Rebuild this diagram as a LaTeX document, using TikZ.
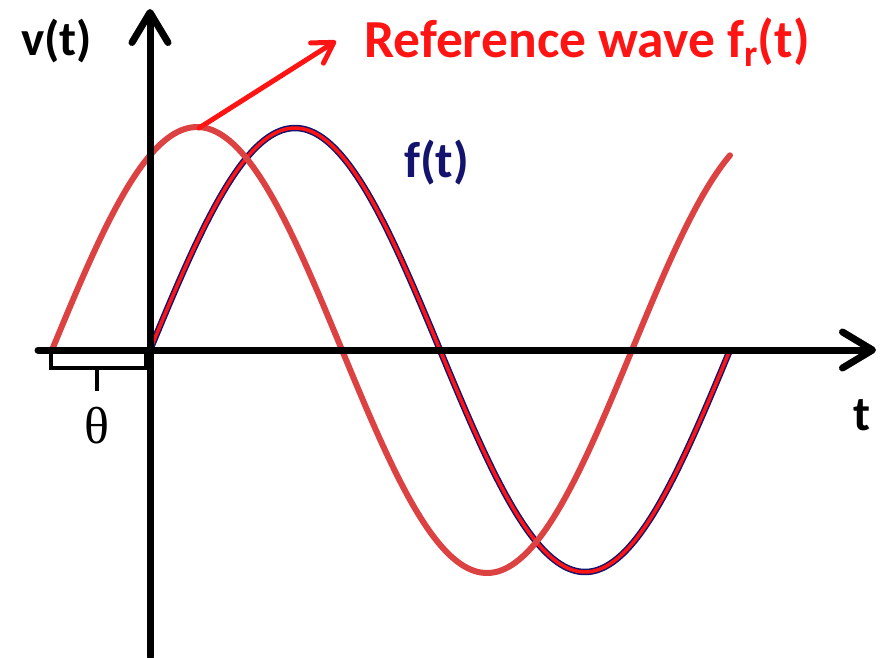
\documentclass[tikz,border=0pt]{standalone}
\usepackage{fontspec}
\setmainfont{Carlito}
\newfontfamily\thetafont{Liberation Serif}
\usetikzlibrary{arrows.meta}
\definecolor{refred}{RGB}{221,66,66}
\definecolor{brightred}{RGB}{255,20,20}
\definecolor{navy}{RGB}{20,20,110}
\tikzset{
  axis/.style={line width=7pt, line cap=round, -{Straight Barb[length=30pt,width=36pt,round]}},
  lbl/.style={inner sep=0pt, font=\bfseries},
  refwave/.style={line width=6pt, color=refred, line cap=round},
  fwaveout/.style={line width=6.5pt, color=navy},
  fwavein/.style={line width=3.5pt, color=brightred},
  pointer/.style={line width=5pt, color=brightred, line cap=round, -{Straight Barb[length=20pt,width=24pt,round]}},
  bracket/.style={line width=4.5pt, line join=miter}
}
\begin{document}
\begin{tikzpicture}[x=1pt,y=-1pt]
\useasboundingbox (0,0) rectangle (887,657);
% f(t)
\draw[fwaveout] plot[domain=150:730, samples=200] (\x, {350-222*sin(0.62069*(\x-150))});
\draw[fwavein] plot[domain=150:730, samples=200] (\x, {350-222*sin(0.62069*(\x-150))});
% reference wave
\draw[refwave] plot[domain=52:730, samples=200] (\x, {350-223*sin(0.62069*(\x-52))});
% axes
\coordinate (ybot) at (150,657);
\coordinate (ytop) at (150,9);
\coordinate (xl) at (38,350);
\coordinate (xr) at (876,350);
\draw[axis] (xl) -- (xr);
\draw[axis] (ybot) -- (ytop);
% theta bracket
\coordinate (bl) at (51,350);
\coordinate (br) at (146,350);
\coordinate (bm) at (97,368);
\coordinate (bt) at (97,391);
\draw[bracket] (bl) -- (51,368) -- (146,368) -- (br);
\draw[bracket] (bm) -- (bt);
\node[inner sep=0pt, anchor=base, font=\thetafont\fontsize{52}{54}\selectfont] (theta) at (97,443) {θ};
% pointer
\coordinate (peak) at (199,128);
\coordinate (ptip) at (336,41);
\draw[pointer] (peak) -- (ptip);
% labels
\node[lbl, font=\bfseries\fontsize{49}{51}\selectfont, anchor=base west] (vt) at (21,55) {v(t)};
\node[lbl, font=\bfseries\fontsize{53.5}{55}\selectfont, anchor=base west, text=brightred] (ref) at (364,57) {Reference wave f\textsubscript{r}(t)};
\node[lbl, font=\bfseries\fontsize{50.5}{52}\selectfont, text=navy, anchor=base west] (ft) at (404,177) {f(t)};
\node[lbl, font=\bfseries\fontsize{49}{51}\selectfont, anchor=base] (tl) at (862,430) {t};
\end{tikzpicture}
\end{document}
